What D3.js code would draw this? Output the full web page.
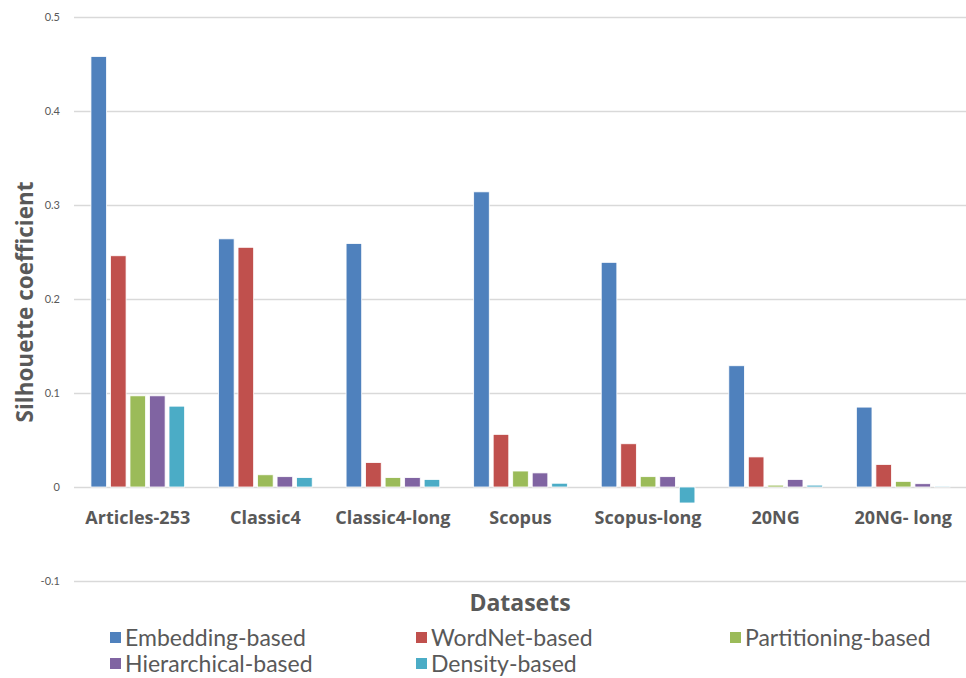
<!DOCTYPE html>
<html>
<head>
<meta charset="utf-8">
<script src="https://cdn.jsdelivr.net/npm/d3@7"></script>
<style>
  html, body { margin: 0; padding: 0; background: #fff; }
  svg { display: block; }
</style>
</head>
<body>
<svg id="chart" width="966" height="678"></svg>
<script>
// Silhouette coefficient per dataset and clustering approach
const datasets = ["Articles-253", "Classic4", "Classic4-long", "Scopus", "Scopus-long", "20NG", "20NG- long"];
const methods = ["Embedding-based", "WordNet-based", "Partitioning-based", "Hierarchical-based", "Density-based"];
const embedding    = [0.458, 0.264, 0.259, 0.314, 0.239, 0.129, 0.085];
const wordnet      = [0.246, 0.255, 0.026, 0.056, 0.046, 0.032, 0.024];
const partitioning = [0.097, 0.013, 0.010, 0.017, 0.011, 0.002, 0.006];
const hierarchical = [0.097, 0.011, 0.010, 0.015, 0.011, 0.008, 0.0035];
const density      = [0.086, 0.010, 0.008, 0.004, -0.017, 0.002, 0.001];
const yTicks = [-0.1, 0, 0.1, 0.2, 0.3, 0.4, 0.5];
const colors = ["#4F81BD", "#C0504D", "#9BBB59", "#8064A2", "#4BACC6"];

const seriesValues = [embedding, wordnet, partitioning, hierarchical, density];
const rows = datasets.map((d, i) => ({ name: d, values: seriesValues.map(s => s[i]) }));

const svg = d3.select("#chart");
const plot = { left: 74, right: 967, top: 17, bottom: 581 };

const y = d3.scaleLinear().domain([-0.1, 0.5]).range([plot.bottom, plot.top]);
const x0 = d3.scaleBand().domain(datasets).range([plot.left, plot.right]).paddingInner(0.235).paddingOuter(0.1175);
const x1 = d3.scaleBand().domain(d3.range(methods.length)).range([0, x0.bandwidth()]).paddingInner(0.2).paddingOuter(0.1);
const color = d3.scaleOrdinal().domain(d3.range(methods.length)).range(colors);

// horizontal gridlines with tick labels
const yAxis = d3.axisLeft(y).tickValues(yTicks).tickSize(-(plot.right - plot.left)).tickPadding(14)
  .tickFormat(d => d === 0 ? "0" : String(+d.toFixed(1)));
const gy = svg.append("g").attr("transform", `translate(${plot.left},0)`).call(yAxis);
gy.select(".domain").remove();
gy.selectAll(".tick line").attr("stroke", "#d9d9d9").attr("stroke-width", 1.3);
gy.selectAll(".tick text").attr("fill", "#595959").attr("font-family", "Lato, 'Open Sans', sans-serif").attr("font-size", 11);

// bars
const groups = svg.append("g").selectAll("g").data(rows).join("g")
  .attr("transform", d => `translate(${x0(d.name)},0)`);
groups.selectAll("rect").data(d => d.values.map((v, k) => ({ k, v }))).join("rect")
  .attr("x", d => x1(d.k))
  .attr("width", x1.bandwidth())
  .attr("y", d => y(Math.max(0, d.v)))
  .attr("height", d => Math.abs(y(d.v) - y(0)))
  .attr("fill", d => color(d.k))
  .attr("stroke", "#ffffff")
  .attr("stroke-width", 0.8);

// category labels
const xAxis = d3.axisBottom(x0).tickSize(0).tickPadding(0);
const gx = svg.append("g").attr("transform", `translate(0,${y(0)})`).call(xAxis);
gx.select(".domain").remove();
gx.selectAll(".tick text")
  .attr("dy", 0).attr("y", 37)
  .attr("fill", "#595959")
  .attr("font-family", "'Open Sans', sans-serif")
  .attr("font-weight", "bold")
  .attr("font-size", 18);

// axis titles
svg.append("text")
  .attr("transform", `translate(33,${(plot.top + plot.bottom) / 2 + 3}) rotate(-90)`)
  .attr("text-anchor", "middle")
  .attr("fill", "#595959")
  .attr("font-family", "'Open Sans', sans-serif")
  .attr("font-weight", "bold")
  .attr("font-size", 22.5)
  .text("Silhouette coefficient");

svg.append("text")
  .attr("x", 520).attr("y", 611)
  .attr("text-anchor", "middle")
  .attr("fill", "#595959")
  .attr("font-family", "'Open Sans', sans-serif")
  .attr("font-weight", "bold")
  .attr("font-size", 23)
  .text("Datasets");

// legend
const legendPos = [[110, 638], [416, 638], [730, 638], [110, 664], [416, 664]];
const legend = svg.append("g").selectAll("g").data(methods).join("g")
  .attr("transform", (d, i) => `translate(${legendPos[i][0]},${legendPos[i][1]})`);
legend.append("rect").attr("x", 0).attr("y", -6).attr("width", 11).attr("height", 11)
  .attr("fill", (d, i) => color(i));
legend.append("text").attr("x", 15).attr("y", 0).attr("dy", "0.35em")
  .attr("fill", "#595959")
  .attr("font-family", "Lato, sans-serif")
  .attr("font-size", 23)
  .text(d => d);
</script>
</body>
</html>
